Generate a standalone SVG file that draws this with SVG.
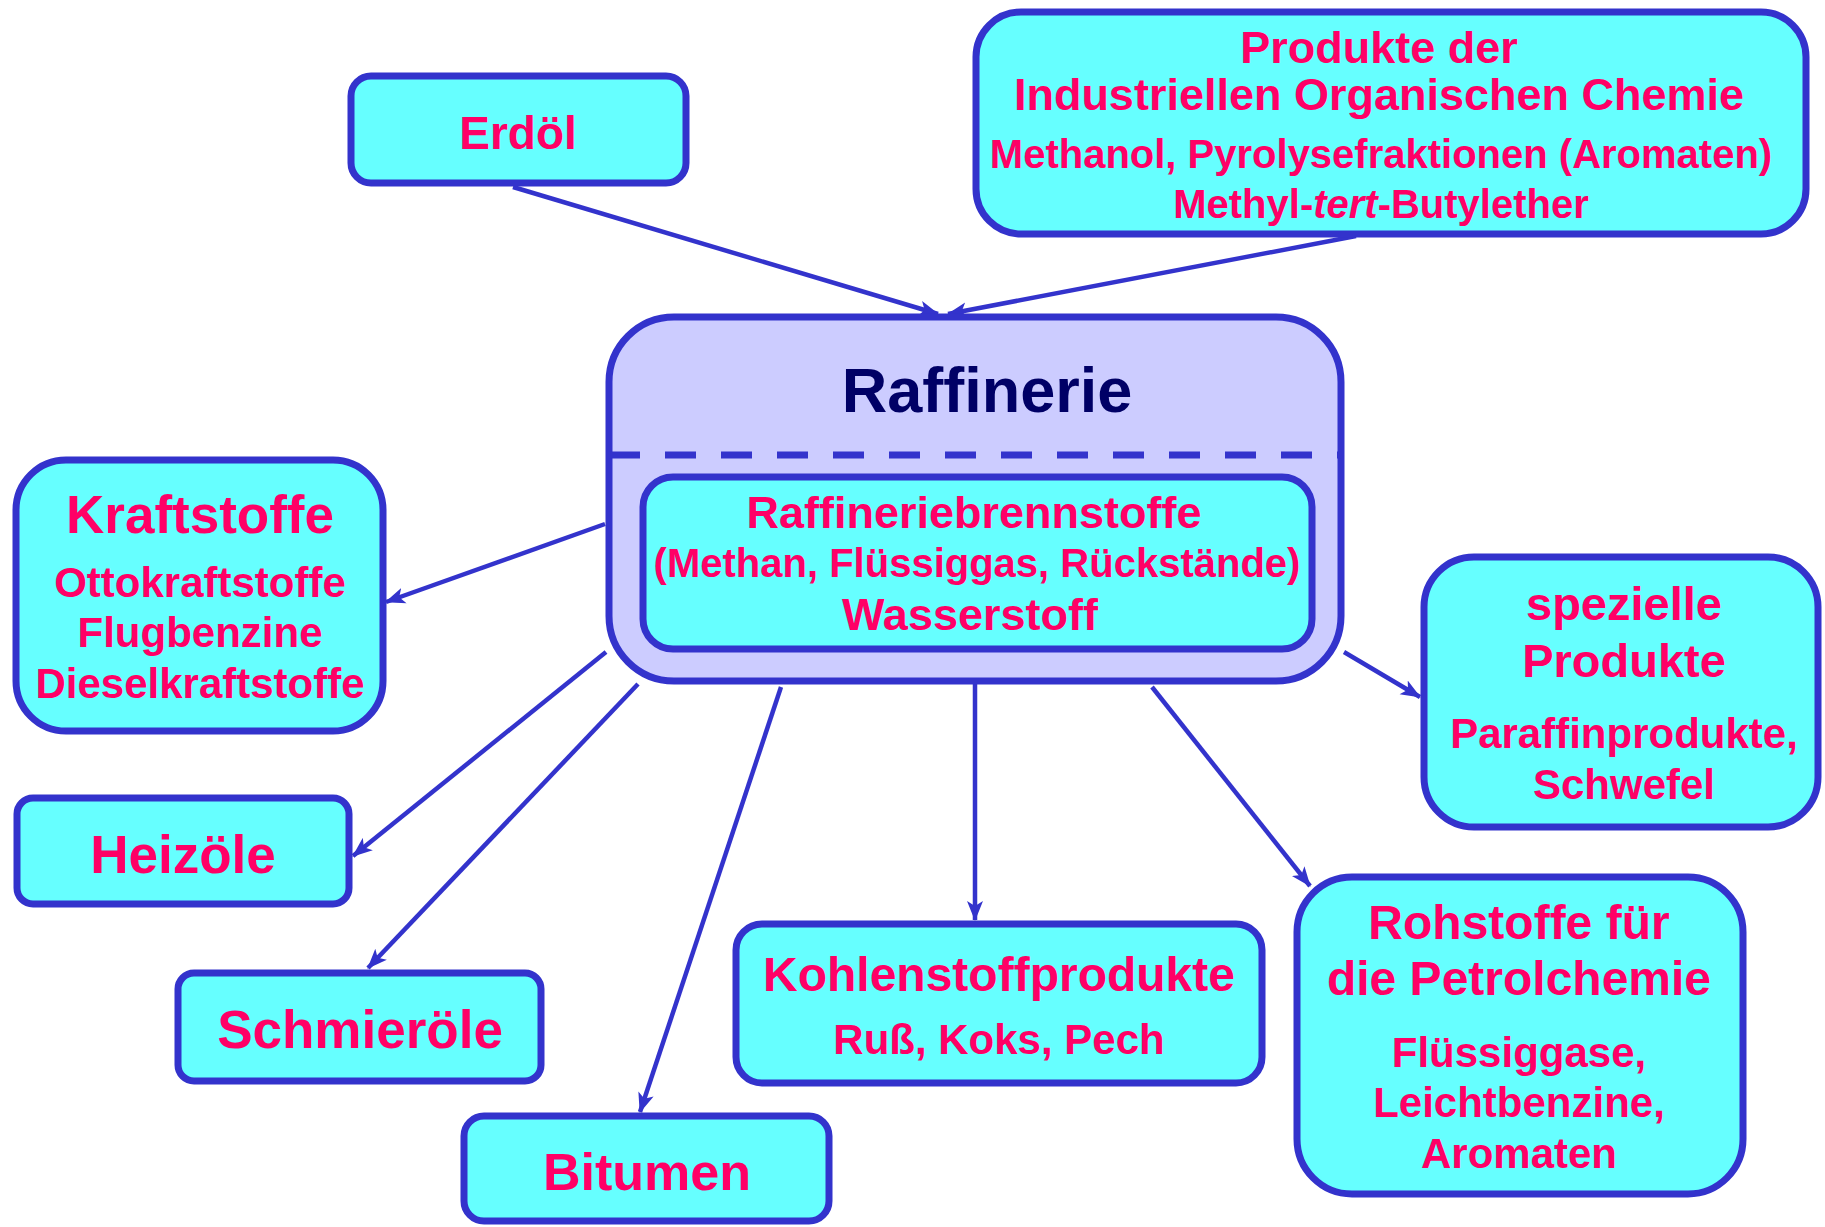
<svg xmlns="http://www.w3.org/2000/svg" width="1825" height="1227" viewBox="0 0 1825 1227">
<style>
.box{fill:#66FFFF;stroke:#3333CC;stroke-width:7}
.raf{fill:#CCCCFF;stroke:#3333CC;stroke-width:7}
.t{font-family:"Liberation Sans",Arial,sans-serif;font-weight:bold;fill:#FF0066;text-anchor:middle}
.conn{stroke:#3333CC;stroke-width:4.5;fill:none;marker-end:url(#arr)}
</style>
<defs>
<marker id="arr" markerUnits="userSpaceOnUse" markerWidth="20" markerHeight="18" refX="19" refY="9" orient="auto">
<path d="M0,1 L20,9 L0,17 L5,9 z" fill="#3333CC"/>
</marker>
</defs>
<rect width="1825" height="1227" fill="#FFFFFF"/>
<g id="connectors">
<line class="conn" x1="513" y1="187" x2="938" y2="314"/>
<line class="conn" x1="1356" y1="236" x2="948" y2="314"/>
<line class="conn" x1="605" y1="524" x2="386" y2="602"/>
<line class="conn" x1="606" y1="652" x2="353" y2="856"/>
<line class="conn" x1="638" y1="684" x2="368" y2="968"/>
<line class="conn" x1="781" y1="687" x2="640" y2="1112"/>
<line class="conn" x1="975" y1="684" x2="975" y2="920"/>
<line class="conn" x1="1152" y1="687" x2="1310" y2="886"/>
<line class="conn" x1="1344" y1="652" x2="1420" y2="697"/>
</g>
<g id="erdoel">
<rect class="box" x="351" y="76" width="335" height="107" rx="20"/>
<text class="t" x="518" y="149" font-size="46">Erdöl</text>
</g>
<g id="produkte-ioc">
<rect class="box" x="976" y="12" width="830" height="222" rx="45"/>
<text class="t" x="1379" y="63" font-size="45">Produkte der</text>
<text class="t" x="1379" y="110" font-size="45">Industriellen Organischen Chemie</text>
<text class="t" x="1381" y="168" font-size="40">Methanol, Pyrolysefraktionen (Aromaten)</text>
<text class="t" x="1381" y="218" font-size="40">Methyl-<tspan font-style="italic">tert</tspan>-Butylether</text>
</g>
<g id="raffinerie">
<rect class="raf" x="609" y="317" width="732" height="364" rx="65"/>
<line x1="609" y1="455" x2="1341" y2="455" stroke="#3333CC" stroke-width="7" stroke-dasharray="31 25"/>
<text x="987" y="412" font-size="63" font-family="Liberation Sans,Arial,sans-serif" font-weight="bold" fill="#000066" text-anchor="middle">Raffinerie</text>
</g>
<g id="raffineriebrennstoffe">
<rect class="box" x="643" y="477" width="669" height="172" rx="30"/>
<text class="t" x="974" y="528" font-size="45">Raffineriebrennstoffe</text>
<text class="t" x="977" y="577" font-size="40">(Methan, Flüssiggas, Rückstände)</text>
<text class="t" x="970" y="630" font-size="45">Wasserstoff</text>
</g>
<g id="kraftstoffe">
<rect class="box" x="16" y="460" width="367" height="271" rx="50"/>
<text class="t" x="200" y="533" font-size="53">Kraftstoffe</text>
<text class="t" x="200" y="597" font-size="42">Ottokraftstoffe</text>
<text class="t" x="200" y="647" font-size="42">Flugbenzine</text>
<text class="t" x="200" y="698" font-size="42">Dieselkraftstoffe</text>
</g>
<g id="heizoele">
<rect class="box" x="17" y="798" width="332" height="106" rx="16"/>
<text class="t" x="183" y="873" font-size="53">Heizöle</text>
</g>
<g id="schmieroele">
<rect class="box" x="178" y="973" width="363" height="108" rx="16"/>
<text class="t" x="360" y="1048" font-size="53">Schmieröle</text>
</g>
<g id="bitumen">
<rect class="box" x="464" y="1116" width="365" height="105" rx="20"/>
<text class="t" x="647" y="1190" font-size="52">Bitumen</text>
</g>
<g id="kohlenstoffprodukte">
<rect class="box" x="736" y="924" width="526" height="159" rx="26"/>
<text class="t" x="999" y="991" font-size="48">Kohlenstoffprodukte</text>
<text class="t" x="999" y="1054" font-size="42">Ruß, Koks, Pech</text>
</g>
<g id="rohstoffe">
<rect class="box" x="1297" y="877" width="446" height="317" rx="55"/>
<text class="t" x="1519" y="939" font-size="48">Rohstoffe für</text>
<text class="t" x="1519" y="995" font-size="48">die Petrolchemie</text>
<text class="t" x="1519" y="1067" font-size="42">Flüssiggase,</text>
<text class="t" x="1519" y="1117" font-size="42">Leichtbenzine,</text>
<text class="t" x="1519" y="1168" font-size="42">Aromaten</text>
</g>
<g id="spezielle">
<rect class="box" x="1424" y="557" width="394" height="270" rx="50"/>
<text class="t" x="1624" y="620" font-size="47">spezielle</text>
<text class="t" x="1624" y="677" font-size="47">Produkte</text>
<text class="t" x="1624" y="748" font-size="42">Paraffinprodukte,</text>
<text class="t" x="1624" y="799" font-size="42">Schwefel</text>
</g>
</svg>
